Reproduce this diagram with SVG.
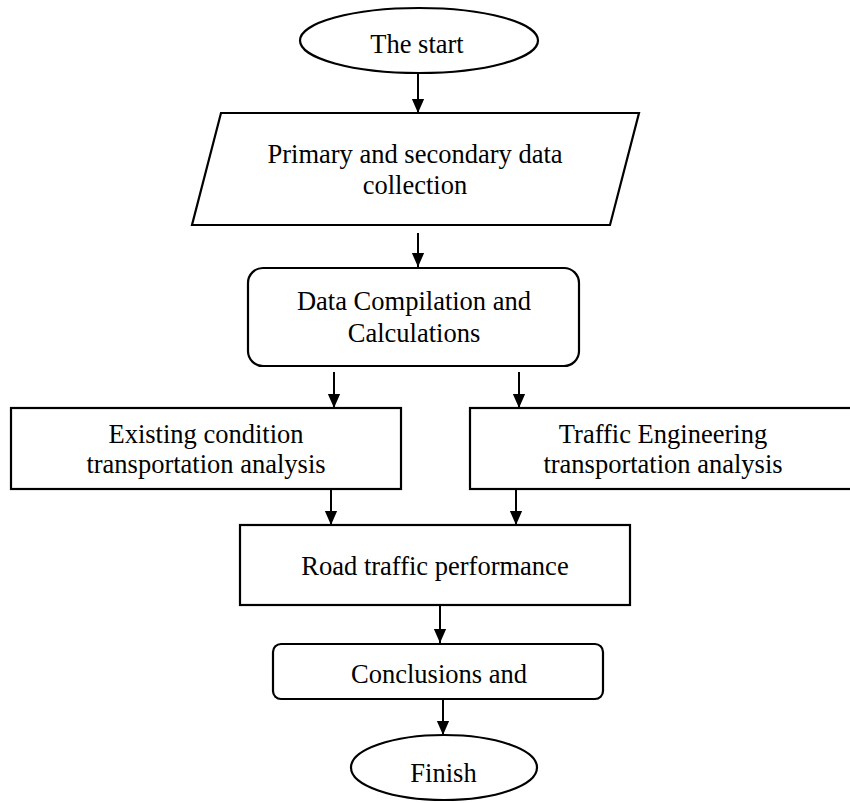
<svg xmlns="http://www.w3.org/2000/svg" width="850" height="803" viewBox="0 0 850 803">
<style>
.s{fill:#fff;stroke:#000;stroke-width:2.2}
.t{font-family:"Liberation Serif","Times New Roman",serif;font-size:26.5px;fill:#000;text-anchor:middle}
.c{stroke:#000;stroke-width:2;fill:none}
</style>
<defs>
<marker id="ah" markerUnits="userSpaceOnUse" markerWidth="16" markerHeight="18" refX="7" refY="16" orient="auto-start-reverse" viewBox="0 0 14 16">
<path d="M0,0 L14,0 L7,16 Z" fill="#000" transform="rotate(0)"/>
</marker>
<marker id="a" markerUnits="userSpaceOnUse" markerWidth="14" markerHeight="16" refX="16" refY="7" orient="auto" viewBox="0 0 16 14">
<path d="M0,0 L16,7 L0,14 Z" fill="#000"/>
</marker>
</defs>
<g id="connectors">
<line class="c" x1="418" y1="73" x2="418" y2="113" marker-end="url(#a)"/>
<line class="c" x1="418" y1="233" x2="418" y2="267" marker-end="url(#a)"/>
<line class="c" x1="334" y1="372" x2="334" y2="408" marker-end="url(#a)"/>
<line class="c" x1="519" y1="372" x2="519" y2="408" marker-end="url(#a)"/>
<line class="c" x1="331" y1="489" x2="331" y2="525" marker-end="url(#a)"/>
<line class="c" x1="516" y1="489" x2="516" y2="525" marker-end="url(#a)"/>
<line class="c" x1="440" y1="605" x2="440" y2="643" marker-end="url(#a)"/>
<line class="c" x1="443" y1="699" x2="443" y2="735" marker-end="url(#a)"/>
</g>
<g id="start">
<ellipse class="s" cx="419" cy="40.5" rx="119" ry="32.5"/>
<text class="t" x="417" y="53">The start</text>
</g>
<g id="collection">
<polygon class="s" points="221,113 639,113 610,225 192,225"/>
<text class="t" x="415" y="163">Primary and secondary data</text>
<text class="t" x="415" y="194">collection</text>
</g>
<g id="compilation">
<rect class="s" x="248" y="268" width="331" height="98" rx="15" ry="15"/>
<text class="t" x="414" y="310">Data Compilation and</text>
<text class="t" x="414" y="342">Calculations</text>
</g>
<g id="existing">
<rect class="s" x="11" y="408" width="390" height="81"/>
<text class="t" x="206" y="443">Existing condition</text>
<text class="t" x="206" y="473">transportation analysis</text>
</g>
<g id="traffic">
<rect class="s" x="470" y="408" width="385" height="81"/>
<text class="t" x="663" y="443">Traffic Engineering</text>
<text class="t" x="663" y="473">transportation analysis</text>
</g>
<g id="road">
<rect class="s" x="240" y="525" width="390" height="80"/>
<text class="t" x="435" y="575">Road traffic performance</text>
</g>
<g id="conclusions">
<rect class="s" x="273" y="644" width="330" height="55" rx="8" ry="8"/>
<text class="t" x="439" y="683">Conclusions and</text>
</g>
<g id="finish">
<ellipse class="s" cx="444" cy="767.5" rx="93" ry="32.5"/>
<text class="t" x="443.5" y="782">Finish</text>
</g>
</svg>
